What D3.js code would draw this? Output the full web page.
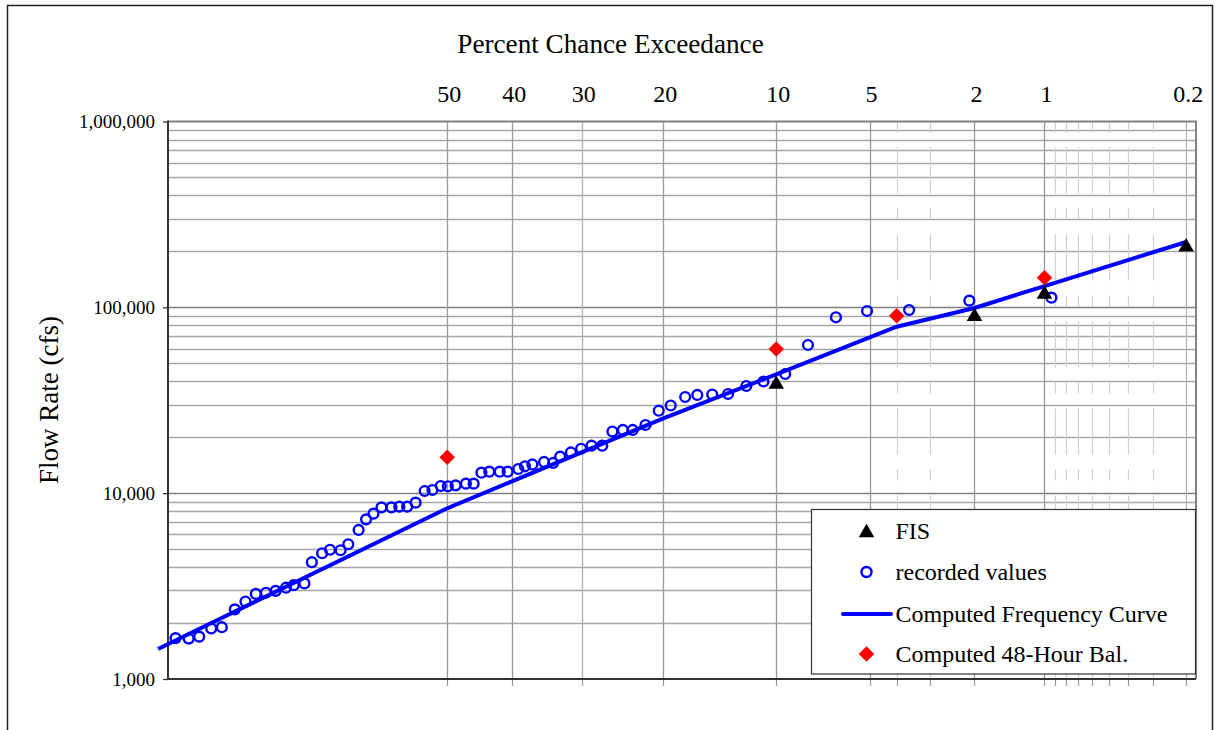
<!DOCTYPE html>
<meta charset="utf-8">
<style>
body { margin: 0; background: #fff; }
text { font-family: "Liberation Serif", "Times New Roman", serif; fill: #000; }
</style>
<svg width="1216" height="730"></svg>
<script src="https://cdn.jsdelivr.net/npm/d3@7/dist/d3.min.js"></script>
<script>

// percent chance exceedance labels (top) and extra grid positions
var pctTicks = [50, 40, 30, 20, 10, 5, 2, 1, 0.2];
var pctMinor = [4, 3, 0.9, 0.8, 0.7, 0.6, 0.5, 0.4, 0.3];
var flowTicks = [1000, 10000, 100000, 1000000];

// FIS
var fisPct  = [10, 2, 1, 0.2];
var fisFlow = [39000, 90400, 119000, 213800];

// recorded values
var recPct = [85.5, 84.3, 83.3, 82.1, 81.0, 79.6, 78.4, 77.2, 76.0, 74.8,
              73.5, 72.5, 71.1, 70.1, 68.7, 67.6, 66.1, 65.0, 63.5, 62.4,
              61.3, 60.1, 58.6, 57.4, 56.2, 54.9, 53.5, 52.3, 51.0, 49.9,
              48.7, 47.1, 45.9, 44.7, 43.5, 41.9, 40.7, 39.1, 38.1, 37.0,
              35.3, 34.0, 33.0, 31.5, 30.1, 28.7, 27.3, 26.0, 24.7, 23.5,
              22.0, 20.5, 19.2, 17.7, 16.5, 15.1, 13.7, 12.2, 10.9, 9.4,
              8.0, 6.5, 5.1, 3.6, 2.1, 0.93];
var recFlow = [1660, 1650, 1690, 1870, 1900, 2370, 2610, 2870, 2910, 2980,
               3100, 3200, 3270, 4250, 4750, 4960, 4930, 5310, 6340, 7230,
               7760, 8390, 8390, 8460, 8460, 8890, 10270, 10400, 10930, 10890,
               11020, 11250, 11250, 12890, 13050, 13050, 13050, 13490, 13950, 14270,
               14720, 14540, 15720, 16560, 17340, 18010, 18010, 21470, 21880, 21880,
               23270, 27780, 29640, 32930, 33760, 33960, 34170, 37730, 39900, 43770,
               62700, 88400, 95570, 96760, 108600, 112700];

// Computed Frequency Curve
var curvePct  = [87, 50, 20, 10, 4, 2, 1, 0.2];
var curveFlow = [1450, 8290, 25290, 43620, 78660, 99200, 130200, 224700];

// Computed 48-Hour Bal.
var balPct  = [50, 10, 4, 1];
var balFlow = [15600, 59700, 90200, 144400];

// inverse normal (Acklam)
function probit(p) {
  var a = [-3.969683028665376e+01, 2.209460984245205e+02, -2.759285104469687e+02, 1.383577518672690e+02, -3.066479806614716e+01, 2.506628277459239e+00];
  var b = [-5.447609879822406e+01, 1.615858368580409e+02, -1.556989798598866e+02, 6.680131188771972e+01, -1.328068155288572e+01];
  var c = [-7.784894002430293e-03, -3.223964580411365e-01, -2.400758277161838e+00, -2.549732539343734e+00, 4.374664141464968e+00, 2.938163982698783e+00];
  var d = [7.784695709041462e-03, 3.224671290700398e-01, 2.445134137142996e+00, 3.754408661907416e+00];
  var pl = 0.02425, q, r;
  if (p < pl) {
    q = Math.sqrt(-2 * Math.log(p));
    return (((((c[0]*q+c[1])*q+c[2])*q+c[3])*q+c[4])*q+c[5]) / ((((d[0]*q+d[1])*q+d[2])*q+d[3])*q+1);
  }
  if (p <= 1 - pl) {
    q = p - 0.5; r = q * q;
    return (((((a[0]*r+a[1])*r+a[2])*r+a[3])*r+a[4])*r+a[5])*q / (((((b[0]*r+b[1])*r+b[2])*r+b[3])*r+b[4])*r+1);
  }
  q = Math.sqrt(-2 * Math.log(1 - p));
  return -(((((c[0]*q+c[1])*q+c[2])*q+c[3])*q+c[4])*q+c[5]) / ((((d[0]*q+d[1])*q+d[2])*q+d[3])*q+1);
}
function zOf(pct) { return -probit(pct / 100); }

var svg = d3.select("svg");
var pLeft = 168, pRight = 1196, pTop = 121.5, pBottom = 679;

var xz = d3.scaleLinear().domain([zOf(86.16), zOf(0.177)]).range([pLeft, pRight]);
var x = function(pct) { return xz(zOf(pct)); };
var y = d3.scaleLog().domain([1000, 1000000]).range([pBottom, pTop]);

// outer chart border
svg.append("rect")
    .attr("x", 7.5).attr("y", 5.5).attr("width", 1205).attr("height", 740)
    .attr("fill", "none").attr("stroke", "#222").attr("stroke-width", 1.5);

// horizontal grid
var minorFlows = [];
[1000, 10000, 100000].forEach(function(dec) {
  for (var k = 2; k <= 9; k++) minorFlows.push(dec * k);
});
svg.append("g").selectAll("line").data(minorFlows).enter().append("line")
    .attr("x1", pLeft).attr("x2", pRight)
    .attr("y1", function(d) { return Math.round(y(d)) + 0.5; })
    .attr("y2", function(d) { return Math.round(y(d)) + 0.5; })
    .attr("stroke", "#a6a6a6").attr("stroke-width", 1.3);
svg.append("g").selectAll("line").data(flowTicks.slice(1, 3)).enter().append("line")
    .attr("x1", pLeft).attr("x2", pRight)
    .attr("y1", function(d) { return Math.round(y(d)) + 0.5; })
    .attr("y2", function(d) { return Math.round(y(d)) + 0.5; })
    .attr("stroke", "#808080").attr("stroke-width", 1.5);

// vertical grid
svg.append("g").selectAll("line").data(pctMinor).enter().append("line")
    .attr("x1", function(d) { return Math.round(x(d)) + 0.5; })
    .attr("x2", function(d) { return Math.round(x(d)) + 0.5; })
    .attr("y1", pTop).attr("y2", pBottom)
    .attr("stroke", "#cfcfcf").attr("stroke-width", 1.2)
    .attr("stroke-dasharray", "11,15,46,15");
svg.append("g").selectAll("line").data(pctTicks).enter().append("line")
    .attr("x1", function(d) { return Math.round(x(d)) + 0.5; })
    .attr("x2", function(d) { return Math.round(x(d)) + 0.5; })
    .attr("y1", pTop).attr("y2", pBottom)
    .attr("stroke", function(d) { return d == 0.2 ? "#b4b4b4" : (d == 30 ? "#b0b0b0" : "#999"); })
    .attr("stroke-width", 1.3);

// bottom ticks
svg.append("g").selectAll("line").data(pctTicks.concat(pctMinor)).enter().append("line")
    .attr("x1", function(d) { return Math.round(x(d)) + 0.5; })
    .attr("x2", function(d) { return Math.round(x(d)) + 0.5; })
    .attr("y1", pBottom).attr("y2", pBottom + 7)
    .attr("stroke", "#999").attr("stroke-width", 1.2);

// plot border (top/right gray)
svg.append("path")
    .attr("d", "M" + pLeft + "," + pTop + "H" + pRight + "V" + pBottom)
    .attr("fill", "none").attr("stroke", "#808080").attr("stroke-width", 2);

// axes lines
svg.append("line").attr("x1", pLeft).attr("x2", pRight).attr("y1", pBottom).attr("y2", pBottom)
    .attr("stroke", "#333").attr("stroke-width", 2);
svg.append("line").attr("x1", pLeft).attr("x2", pLeft).attr("y1", pTop - 1).attr("y2", pBottom + 1)
    .attr("stroke", "#333").attr("stroke-width", 2);

// y axis
var yAxis = svg.append("g")
    .attr("transform", "translate(" + pLeft + ",0)")
    .call(d3.axisLeft(y).tickValues(flowTicks).tickFormat(d3.format(",")).tickSize(5).tickPadding(8));
yAxis.select(".domain").remove();
yAxis.selectAll("line").attr("stroke", "#333").attr("stroke-width", 1.3);
yAxis.selectAll("text").style("font-family", "'Liberation Serif', serif").style("font-size", "19px").attr("fill", "#000");

// top labels
svg.append("g").selectAll("text").data(pctTicks).enter().append("text")
    .attr("x", function(d) { return x(d) + 2; })
    .attr("y", 102)
    .attr("text-anchor", "middle")
    .style("font-size", "24px")
    .text(function(d) { return d; });

svg.append("text")
    .attr("x", 610.5).attr("y", 53)
    .attr("text-anchor", "middle")
    .style("font-size", "27.2px")
    .text("Percent Chance Exceedance");

svg.append("text")
    .attr("transform", "translate(58,400) rotate(-90)")
    .attr("text-anchor", "middle")
    .style("font-size", "27px")
    .text("Flow Rate (cfs)");

// computed frequency curve
var line = d3.line()
    .x(function(d) { return x(d[0]); })
    .y(function(d) { return y(d[1]); });
svg.append("path")
    .datum(d3.zip(curvePct, curveFlow))
    .attr("d", line)
    .attr("fill", "none").attr("stroke", "#0000ff").attr("stroke-width", 4);

// recorded values
svg.append("g").selectAll("circle").data(d3.zip(recPct, recFlow)).enter().append("circle")
    .attr("cx", function(d) { return x(d[0]); })
    .attr("cy", function(d) { return y(d[1]); })
    .attr("r", 4.9)
    .attr("fill", "none").attr("stroke", "#0000ff").attr("stroke-width", 2.4);

var tri = d3.symbol().type(d3.symbolTriangle).size(105);
var dia = d3.symbol().type(d3.symbolSquare).size(120);

// FIS
svg.append("g").selectAll("path").data(d3.zip(fisPct, fisFlow)).enter().append("path")
    .attr("d", tri)
    .attr("transform", function(d) { return "translate(" + x(d[0]) + "," + (y(d[1]) + 1) + ")"; })
    .attr("fill", "#000");

// 48-hour
svg.append("g").selectAll("path").data(d3.zip(balPct, balFlow)).enter().append("path")
    .attr("d", dia)
    .attr("transform", function(d) { return "translate(" + x(d[0]) + "," + y(d[1]) + ") rotate(45)"; })
    .attr("fill", "#ff0000");

// legend
var lg = svg.append("g");
lg.append("rect")
    .attr("x", 811.5).attr("y", 509.5).attr("width", 384).attr("height", 164.5)
    .attr("fill", "#fff").attr("stroke", "#333").attr("stroke-width", 1.2);
var rows = [531.7, 572, 614, 654];
var names = ["FIS", "recorded values", "Computed Frequency Curve", "Computed 48-Hour Bal."];
lg.append("path").attr("d", tri).attr("transform", "translate(866.5," + (rows[0] + 1) + ")").attr("fill", "#000");
lg.append("circle").attr("cx", 866.5).attr("cy", rows[1]).attr("r", 5)
    .attr("fill", "none").attr("stroke", "#0000ff").attr("stroke-width", 2.4);
lg.append("line").attr("x1", 843).attr("x2", 891).attr("y1", rows[2]).attr("y2", rows[2])
    .attr("stroke", "#0000ff").attr("stroke-width", 4).attr("stroke-linecap", "round");
lg.append("path").attr("d", dia).attr("transform", "translate(866.5," + rows[3] + ") rotate(45)").attr("fill", "#ff0000");
lg.selectAll("text.lbl").data(names).enter().append("text")
    .attr("class", "lbl")
    .attr("x", 895.5)
    .attr("y", function(d, i) { return rows[i] + 7.5; })
    .style("font-size", "24px")
    .text(function(d) { return d; });

</script>
